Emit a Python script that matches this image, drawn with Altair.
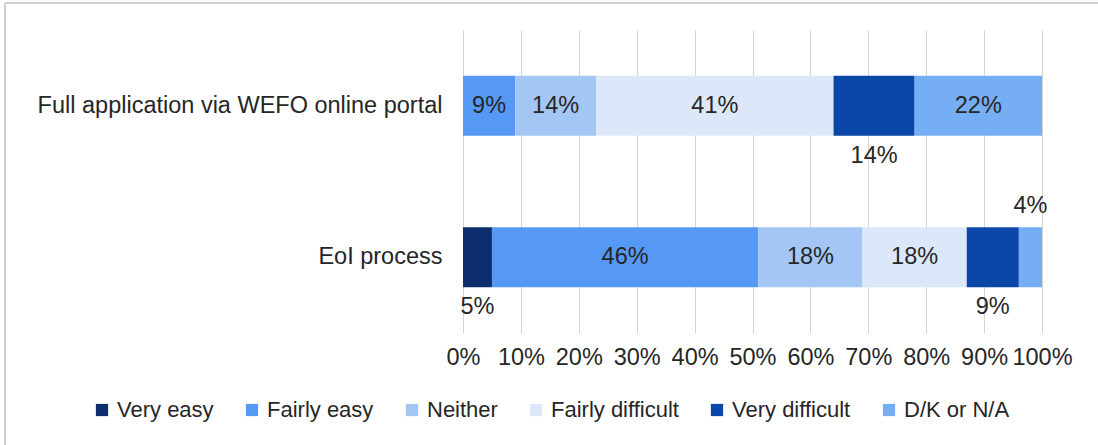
import altair as alt
import pandas as pd

categories = ["Full application via WEFO online portal", "EoI process"]
responses = ["Very easy", "Fairly easy", "Neither", "Fairly difficult", "Very difficult", "D/K or N/A"]
colors = ["#0d2d6c", "#5599f4", "#a4c6f4", "#dce8fa", "#0a47a9", "#75aef5"]

full_values = [0, 9, 14, 41, 14, 22]
eoi_values = [5, 46, 18, 18, 9, 4]
# label placement per segment: in = inside bar, below / above = outside bar, none = no label
full_label_pos = ["none", "in", "in", "in", "below", "in"]
eoi_label_pos = ["below", "in", "in", "in", "below", "above"]

rows = []
for cat, vals, poss in [(categories[0], full_values, full_label_pos),
                        (categories[1], eoi_values, eoi_label_pos)]:
    start = 0
    for i, (r, v, p) in enumerate(zip(responses, vals, poss)):
        rows.append({"cat": cat, "resp": r, "idx": i, "v": v,
                     "x0": start / 100, "x1": (start + v) / 100,
                     "mid": (start + v / 2) / 100, "pos": p, "lab": f"{v}%"})
        start += v
df = pd.DataFrame(rows)

FONT = "Liberation Sans"
TXT = "#262626"
FS = 23.5
LFS = 22

base = alt.Chart(df)

y_enc = alt.Y("cat:N", sort=categories, title=None,
              axis=alt.Axis(labelFontSize=FS, labelFont=FONT, labelColor=TXT,
                            labelPadding=21, domain=False, ticks=False, grid=False,
                            labelLimit=500))

bars = base.mark_bar(size=60).encode(
    x=alt.X("x0:Q", scale=alt.Scale(domain=[0, 1], nice=False), title=None,
            axis=alt.Axis(format=".0%", values=[i / 10 for i in range(11)],
                          labelFontSize=FS, labelFont=FONT, labelColor=TXT,
                          labelPadding=12, domain=False, ticks=False,
                          labelOverlap=False, labelBound=False, labelFlush=False,
                          grid=True, gridColor="#d4d4d4", gridWidth=1)),
    x2="x1:Q",
    y=y_enc,
    color=alt.Color("resp:N", sort=responses,
                    scale=alt.Scale(domain=responses, range=colors),
                    legend=alt.Legend(title=None, orient="none", direction="horizontal",
                                      columns=6, legendX=-372, legendY=369,
                                      symbolType="square", symbolSize=150,
                                      symbolStrokeWidth=0, labelFontSize=LFS,
                                      labelFont=FONT, labelColor=TXT,
                                      labelOffset=4, columnPadding=27,
                                      labelLimit=300)),
)

def labels(pos, dy):
    return base.transform_filter(alt.datum.pos == pos).mark_text(
        fontSize=FS, font=FONT, color=TXT, dy=dy
    ).encode(x="mid:Q", y=alt.Y("cat:N", sort=categories), text="lab:N")

frame_df = pd.DataFrame({"a": [0]})
frame_top = alt.Chart(frame_df).mark_rule(color="#d0d0d0", strokeWidth=2).encode(
    x=alt.value(-458), x2=alt.value(640), y=alt.value(-27))
frame_left = alt.Chart(frame_df).mark_rule(color="#d0d0d0", strokeWidth=2).encode(
    x=alt.value(-458), y=alt.value(-27), y2=alt.value(420))

chart = alt.layer(
    bars, labels("in", 0), labels("below", 50), labels("above", -51),
    frame_top, frame_left
).properties(
    width=579, height=303,
    padding={"left": 463, "top": 30, "right": 56, "bottom": 112},
    autosize=alt.AutoSizeParams(type="none"),
    background="white",
).configure_view(stroke=None)

chart.save("out.html", embed_options={"renderer": "svg", "actions": False})
